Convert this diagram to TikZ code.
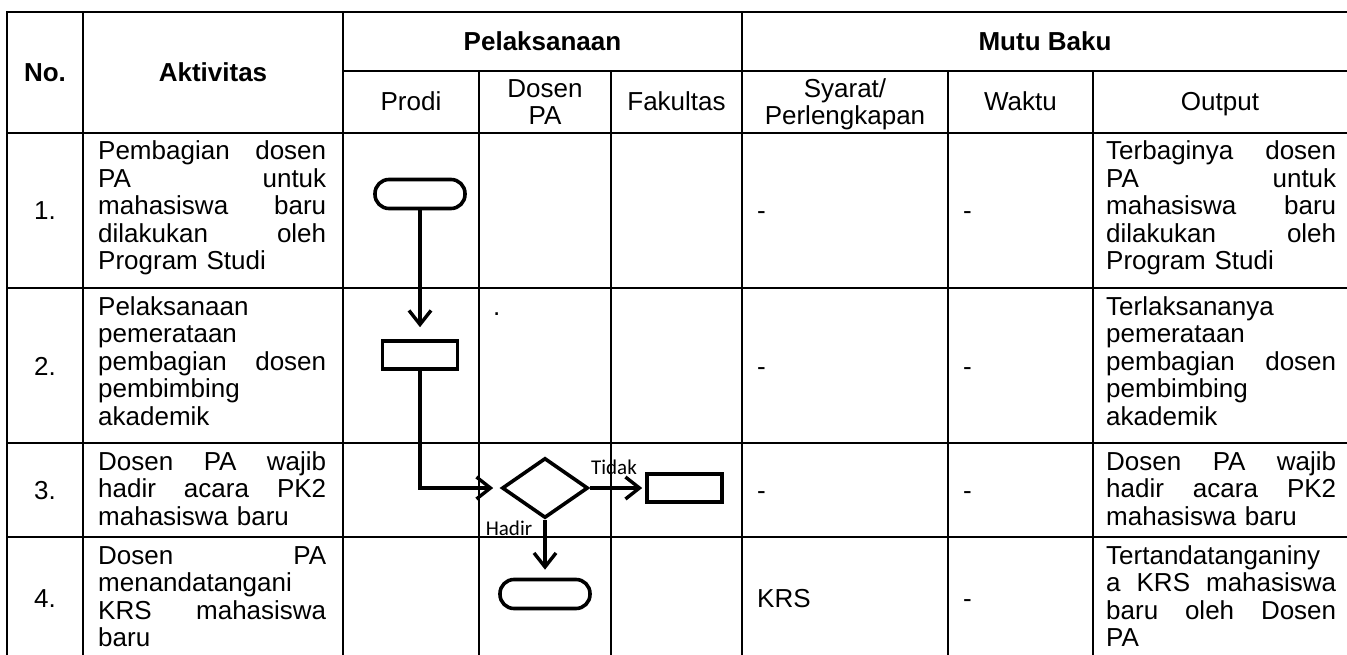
\documentclass[tikz,border=0pt]{standalone}
\usepackage{fontspec}
\setmainfont{Liberation Sans}
\newfontfamily\lblfont{Carlito}
\usetikzlibrary{shapes.geometric,arrows.meta}
\begin{document}
\begin{tikzpicture}[x=1pt,y=-1pt,
  grid/.style={line width=2.6pt},
  body/.style={inner sep=0pt, font=\fontsize{26}{27.5}\selectfont},
  para/.style={body, anchor=base west, text width=228pt, align=left},
  hdr/.style={inner sep=0pt, anchor=base, font=\fontsize{26}{27.5}\selectfont\bfseries},
  sub/.style={inner sep=0pt, anchor=base, font=\fontsize{26}{27.5}\selectfont},
  cell/.style={body, anchor=base west},
  num/.style={body, anchor=base},
  flow/.style={draw, line width=3.6pt, inner sep=0pt},
  term/.style={flow, rounded corners=14pt, minimum width=90pt, minimum height=29pt},
  proc/.style={flow, minimum width=75pt, minimum height=28pt},
  dec/.style={flow, diamond, minimum width=86pt, minimum height=60pt},
  conn/.style={line width=3.4pt, -{Straight Barb[length=14pt,width=22pt]}},
  lbl/.style={inner sep=0pt, font=\lblfont\fontsize{21}{24}\selectfont},
]
\fill[white] (0,0) rectangle (1347,655);
\useasboundingbox (0,0) rectangle (1347,655);

% ---- table grid ----
\draw[grid] (7,655) -- (7,12) -- (1347,12);
\draw[grid] (343,71) -- (1347,71);
\foreach \yy in {133,288,443,537} \draw[grid] (7,\yy) -- (1347,\yy);
\foreach \xx in {83,343,742} \draw[grid] (\xx,12) -- (\xx,655);
\foreach \xx in {479,611,948,1093} \draw[grid] (\xx,71) -- (\xx,655);

% ---- headers ----
\node[hdr] (hno) at (45,82) {No.};
\node[hdr] (hakt) at (213,82) {Aktivitas};
\node[hdr] (hpel) at (542.5,51) {Pelaksanaan};
\node[hdr] (hmutu) at (1045,51) {Mutu Baku};
\node[sub] (hprodi) at (411,111) {Prodi};
\node[sub] (hdosena) at (545,97.5) {Dosen};
\node[sub] (hdosenb) at (545,125) {PA};
\node[sub] (hfak) at (676.5,111) {Fakultas};
\node[sub] (hsya) at (845,97.5) {Syarat/};
\node[sub] (hsyb) at (845,125) {Perlengkapan};
\node[sub] (hwak) at (1020.5,111) {Waktu};
\node[sub] (hout) at (1220,111) {Output};

% ---- numbers ----
\node[num] (n1) at (45,220) {1.};
\node[num] (n2) at (45,375) {2.};
\node[num] (n3) at (45,499) {3.};
\node[num] (n4) at (45,607) {4.};

% ---- aktivitas ----
\node[para] (a1) at (98,160) {Pembagian\hfill dosen\\PA\hfill untuk\\mahasiswa\hfill baru\\dilakukan\hfill oleh\\Program Studi};
\node[para] (a2) at (98,315) {Pelaksanaan\\pemerataan\\pembagian\hfill dosen\\pembimbing\\akademik};
\node[para] (a3) at (98,470) {Dosen\hfill PA\hfill wajib\\hadir\hfill acara\hfill PK2\\mahasiswa baru};
\node[para] (a4) at (98,564) {Dosen\hfill PA\\menandatangani\\KRS\hfill mahasiswa\\baru};

% ---- output ----
\node[para, text width=230pt] (o1) at (1106,160) {Terbaginya\hfill dosen\\PA\hfill untuk\\mahasiswa\hfill baru\\dilakukan\hfill oleh\\Program Studi};
\node[para, text width=230pt] (o2) at (1106,315) {Terlaksananya\\pemerataan\\pembagian\hfill dosen\\pembimbing\\akademik};
\node[para, text width=230pt] (o3) at (1106,470) {Dosen\hfill PA\hfill wajib\\hadir\hfill acara\hfill PK2\\mahasiswa baru};
\node[para, text width=230pt] (o4) at (1106,564) {Tertandatanganiny\\a\hfill KRS\hfill mahasiswa\\baru\hfill oleh\hfill Dosen\\PA};

% ---- syarat / waktu ----
\node[cell] (s1) at (757,220) {-};
\node[cell] (s2) at (757,375) {-};
\node[cell] (s3) at (757,499) {-};
\node[cell] (s4) at (757,607) {KRS};
\node[cell] (w1) at (963,220) {-};
\node[cell] (w2) at (963,375) {-};
\node[cell] (w3) at (963,499) {-};
\node[cell] (w4) at (963,607) {-};
\node[cell] (dot) at (493,315) {.};

% ---- flow chart ----
\node[term] (t1) at (420,194) {};
\node[proc] (r2) at (420,355) {};
\node[dec] (d3) at (545,488) {};
\node[proc] (r3) at (684.5,488) {};
\node[term] (t4) at (545,594) {};

\draw[conn, shorten >=12pt] (t1.south) -- (r2.north);
\draw[conn, shorten >=7pt] (r2.south) |- (d3.west);
\draw[conn, shorten >=3pt] (d3.east) -- (r3.west);
\draw[conn, shorten >=8pt] (d3.south) -- (t4.north);

\node[lbl] (tidak) at (614,467) {Tidak};
\node[lbl] (hadir) at (509,528) {Hadir};
\end{tikzpicture}
\end{document}
